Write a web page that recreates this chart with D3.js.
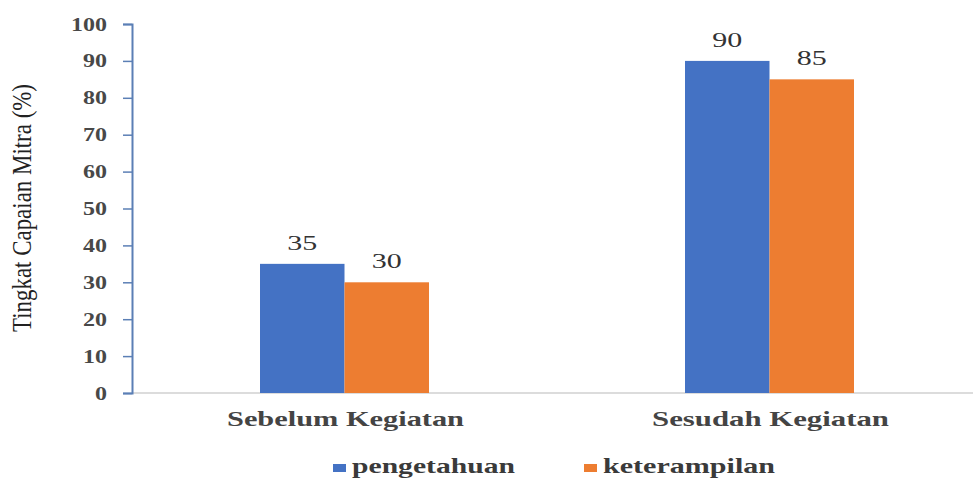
<!DOCTYPE html>
<html>
<head>
<meta charset="utf-8">
<script src="https://cdn.jsdelivr.net/npm/d3@7"></script>
<style>
  body { margin: 0; background: #fff; }
  text { font-family: "Liberation Serif", "Times New Roman", serif; }
</style>
</head>
<body>
<div id="viz"></div>
<script>
// data
var categories = ["Sebelum Kegiatan", "Sesudah Kegiatan"];
var seriesNames = ["pengetahuan", "keterampilan"];
var pengetahuan = [35, 90];
var keterampilan = [30, 85];
var yTicks = [0, 10, 20, 30, 40, 50, 60, 70, 80, 90, 100];
var colors = ["#4472C4", "#ED7D31"];

var W = 973, H = 478;
var mLeft = 132, mRight = 982, mTop = 24, mBottom = 393;

var svg = d3.select("#viz").append("svg")
    .attr("width", W)
    .attr("height", H);

var x0 = d3.scaleBand().domain(categories).range([mLeft, mRight]);
var x1 = d3.scaleBand().domain(seriesNames).range([0, x0.bandwidth()]).paddingInner(0).paddingOuter(1.515);
var y = d3.scaleLinear().domain([0, 100]).range([mBottom, mTop]);

// baseline
svg.append("line")
    .attr("x1", mLeft).attr("x2", mRight)
    .attr("y1", y(0)).attr("y2", y(0))
    .style("stroke", "#d0d0d0").style("stroke-width", 1.5);

// y axis
var yAxis = svg.append("g")
    .attr("transform", "translate(" + mLeft + ",0)")
    .call(d3.axisLeft(y).tickValues(yTicks).tickSize(9).tickPadding(16));
yAxis.select(".domain").style("stroke", "#5b7fb5").style("stroke-width", 2);
yAxis.selectAll(".tick line").style("stroke", "#5b7fb5").style("stroke-width", 1.5);
yAxis.selectAll(".tick text")
    .attr("textLength", function(d) { return d >= 100 ? 36 : (d >= 10 ? 24 : 12); })
    .attr("lengthAdjust", "spacingAndGlyphs")
    .style("font-family", "'Liberation Serif', serif")
    .style("font-size", "19px")
    .style("font-weight", "bold")
    .style("fill", "#484848");

// y axis title
svg.append("text")
    .attr("transform", "translate(31,208) rotate(-90)")
    .attr("text-anchor", "middle")
    .attr("textLength", 248)
    .attr("lengthAdjust", "spacingAndGlyphs")
    .style("font-size", "27px")
    .style("fill", "#222")
    .text("Tingkat Capaian Mitra (%)");

var rows = categories.map(function(c, i) {
    return { cat: c, vals: [pengetahuan[i], keterampilan[i]] };
});

var groups = svg.selectAll("g.grp").data(rows).enter().append("g")
    .attr("class", "grp")
    .attr("transform", function(d) { return "translate(" + x0(d.cat) + ",0)"; });

groups.selectAll("rect").data(function(d) {
        return d.vals.map(function(v, j) { return { name: seriesNames[j], v: v, j: j }; });
    })
    .enter().append("rect")
    .attr("x", function(d) { return x1(d.name); })
    .attr("width", x1.bandwidth())
    .attr("y", function(d) { return y(d.v); })
    .attr("height", function(d) { return y(0) - y(d.v); })
    .style("fill", function(d) { return colors[d.j]; });

groups.selectAll("text.val").data(function(d) {
        return d.vals.map(function(v, j) { return { name: seriesNames[j], v: v }; });
    })
    .enter().append("text")
    .attr("class", "val")
    .attr("x", function(d) { return x1(d.name) + x1.bandwidth() / 2; })
    .attr("y", function(d) { return y(d.v) - 14; })
    .attr("text-anchor", "middle")
    .attr("textLength", 30)
    .attr("lengthAdjust", "spacingAndGlyphs")
    .style("font-size", "20px")
    .style("fill", "#333")
    .text(function(d) { return d.v; });

// category labels
svg.selectAll("text.cat").data(categories).enter().append("text")
    .attr("class", "cat")
    .attr("x", function(d) { return x0(d) + x0.bandwidth() / 2 + 1; })
    .attr("y", 426)
    .attr("text-anchor", "middle")
    .attr("textLength", 237)
    .attr("lengthAdjust", "spacingAndGlyphs")
    .style("font-size", "21px")
    .style("font-weight", "bold")
    .style("fill", "#444")
    .text(function(d) { return d; });

// legend
var legendX = [333, 584];
var legendLen = [163, 172];
var lg = svg.selectAll("g.leg").data(seriesNames).enter().append("g")
    .attr("class", "leg")
    .attr("transform", function(d, i) { return "translate(" + legendX[i] + ",473)"; });
lg.append("rect")
    .attr("x", 0).attr("y", -9).attr("width", 13).attr("height", 8)
    .style("fill", function(d, i) { return colors[i]; });
lg.append("text")
    .attr("x", 19).attr("y", 0)
    .attr("textLength", function(d, i) { return legendLen[i]; })
    .attr("lengthAdjust", "spacingAndGlyphs")
    .style("font-size", "21px")
    .style("font-weight", "bold")
    .style("fill", "#3a3a3a")
    .text(function(d) { return d; });
</script>
</body>
</html>
